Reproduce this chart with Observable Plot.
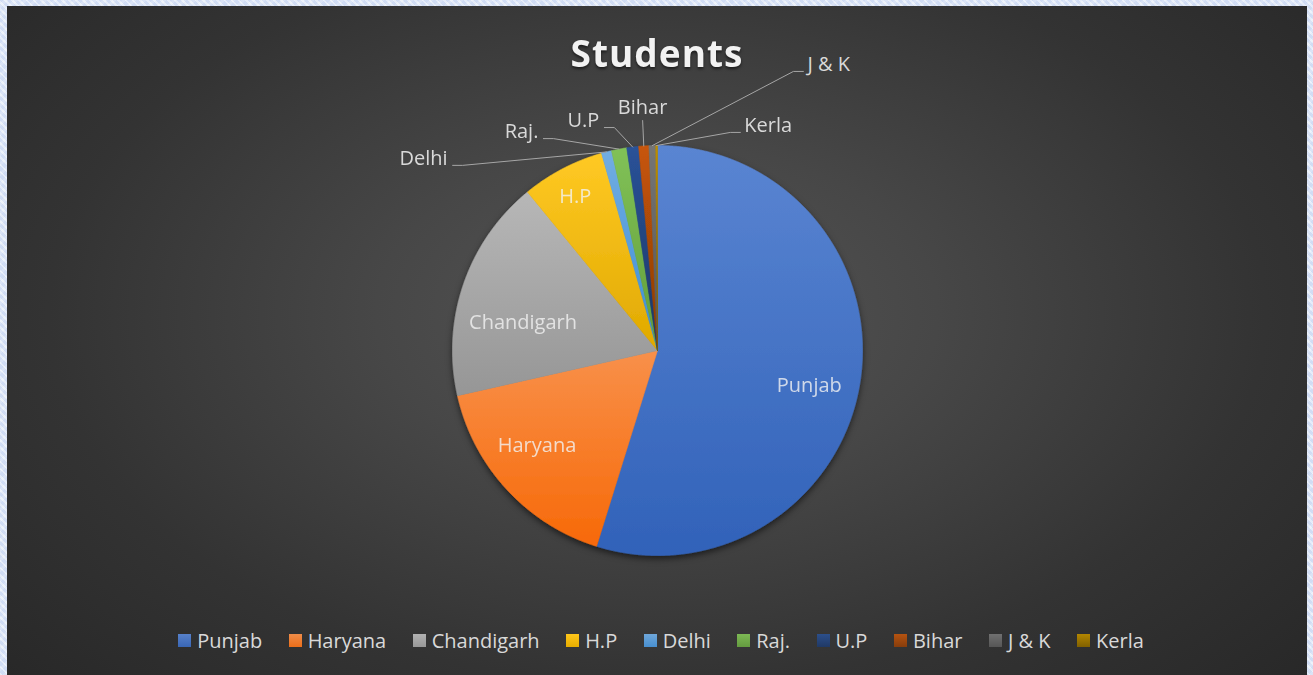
<!DOCTYPE html>
<html>
<head>
<meta charset="utf-8">
<script src="https://cdn.jsdelivr.net/npm/d3@7"></script>
<script src="https://cdn.jsdelivr.net/npm/@observablehq/plot@0.6"></script>
<style>
  html, body { margin: 0; padding: 0; }
  body {
    width: 1313px; height: 675px; overflow: hidden; position: relative;
    background: #dbe5f6;
    background-image:
      repeating-linear-gradient(45deg, rgba(255,255,255,0.35) 0 2px, rgba(190,205,240,0.25) 2px 5px),
      repeating-linear-gradient(-45deg, rgba(255,255,255,0.25) 0 3px, rgba(200,215,245,0.2) 3px 7px);
    font-family: "Open Sans", sans-serif;
  }
  #panel {
    position: absolute; left: 7px; top: 6px; width: 1300px; height: 669px;
    background: radial-gradient(ellipse 72% 85% at 50% 46%, #555555 0%, #474747 30%, #333333 65%, #262626 100%);
  }
  #chart svg { display: block; }
  #title {
    position: absolute; left: 0; top: 28px; width: 100%; text-align: center;
    font-size: 37px; line-height: 37px; font-weight: 700; color: #f2f2f2;
    letter-spacing: 1px; text-shadow: 0 2px 3px rgba(0,0,0,0.55);
  }
  #legend {
    display: flex; justify-content: center; align-items: center; gap: 26.5px;
    margin-top: 20px; height: 28px; padding-left: 8px;
    font-size: 20px; color: #d9d9d9;
  }
  .item { display: flex; align-items: center; gap: 6px; }
  .sw { width: 13px; height: 13px; }
</style>
</head>
<body>
<div id="panel">
  <div id="chart"></div>
  <div id="legend"></div>
  <div id="title"></div>
</div>
<script>
// ---- data ----
const chartTitle = "Students";
const categories = ["Punjab", "Haryana", "Chandigarh", "H.P", "Delhi", "Raj.", "U.P", "Bihar", "J & K", "Kerla"];
const students   = [411, 125, 132, 49, 6, 9, 7, 6, 4, 1];
const colors     = ["#4472C4", "#ED7D31", "#A5A5A5", "#FFC000", "#5B9BD5", "#70AD47", "#264478", "#9E480E", "#636363", "#997300"];

// ---- label layout (polar: degrees clockwise from top, multiples of radius) ----
const insideLabels = [
  {name: "Punjab",     angle: 103.0, radius: 0.76},
  {name: "Haryana",    angle: 231.6, radius: 0.75},
  {name: "Chandigarh", angle: 281.7, radius: 0.67},
  {name: "H.P",        angle: 331.8, radius: 0.85}
];
// outside labels: end of leader line
const outsideLabels = [
  {name: "Delhi", angle: 312.1, radius: 1.347, side: "left"},
  {name: "Raj.",  angle: 331.7, radius: 1.174, side: "left"},
  {name: "U.P",   angle: 346.6, radius: 1.118, side: "left"},
  {name: "Bihar", angle: 356.3, radius: 1.124, side: "top"},
  {name: "J & K", angle: 27.6,  radius: 1.536, side: "right"},
  {name: "Kerla", angle: 20.8,  radius: 1.138, side: "right"}
];

const W = 1300, H = 600, R = 205, CX = 650, CY = 344;
const px = (p) => p / R; // pixels -> data units
const rad = (deg) => deg * Math.PI / 180;

const data = categories.map((c, i) => ({name: c, value: students[i], color: colors[i], i}));
const arcs = d3.pie().sort(null).value(d => d.value).startAngle(0).endAngle(2 * Math.PI)(data);
const byName = new Map(arcs.map(a => [a.data.name, a]));

function slicePoints(a) {
  const pts = [{x: 0, y: 0}];
  const n = Math.max(2, Math.ceil((a.endAngle - a.startAngle) / (Math.PI / 720)));
  for (let k = 0; k <= n; k++) {
    const t = a.startAngle + (a.endAngle - a.startAngle) * k / n;
    pts.push({x: Math.sin(t), y: Math.cos(t)});
  }
  pts.push({x: 0, y: 0});
  return pts;
}

const sliceMarks = arcs.map(a => Plot.line(slicePoints(a), {
  x: "x", y: "y", curve: "linear",
  fill: `url(#grad${a.data.i})`, stroke: `url(#grad${a.data.i})`, strokeWidth: 0.6
}));

const inside = insideLabels.map(o => ({name: o.name, x: o.radius * Math.sin(rad(o.angle)), y: o.radius * Math.cos(rad(o.angle))}));

const leaders = [];
const outsideText = [];
outsideLabels.forEach(o => {
  const a = byName.get(o.name);
  const m = (a.startAngle + a.endAngle) / 2;
  const ex = o.radius * Math.sin(rad(o.angle)), ey = o.radius * Math.cos(rad(o.angle));
  leaders.push({name: o.name, x: Math.sin(m), y: Math.cos(m)});
  if (o.side === "left") leaders.push({name: o.name, x: ex + px(10), y: ey});
  if (o.side === "right") leaders.push({name: o.name, x: ex - px(10), y: ey});
  leaders.push({name: o.name, x: ex, y: ey});
  if (o.side === "left") outsideText.push({name: o.name, side: o.side, x: ex - px(5), y: ey + px(7)});
  else if (o.side === "right") outsideText.push({name: o.name, side: o.side, x: ex + px(4), y: ey + px(7)});
  else outsideText.push({name: o.name, side: o.side, x: ex, y: ey + px(13)});
});

const textStyle = {fill: "#d9d9d9", fontSize: 20, fontFamily: "Open Sans"};

const svg = Plot.plot({
  width: W, height: H, margin: 0,
  x: {domain: [-CX / R, (W - CX) / R], axis: null},
  y: {domain: [-(H - CY) / R, CY / R], axis: null},
  style: {background: "transparent", overflow: "visible"},
  marks: [
    ...sliceMarks,
    Plot.line(leaders, {x: "x", y: "y", z: "name", stroke: "#a6a6a6", strokeWidth: 1, curve: "linear"}),
    Plot.text(inside, {x: "x", y: "y", text: "name", fill: "#f2f2f2", fillOpacity: 0.8, fontSize: 20, fontFamily: "Open Sans"}),
    Plot.text(outsideText.filter(d => d.side === "left"), {x: "x", y: "y", text: "name", textAnchor: "end", ...textStyle}),
    Plot.text(outsideText.filter(d => d.side === "right"), {x: "x", y: "y", text: "name", textAnchor: "start", ...textStyle}),
    Plot.text(outsideText.filter(d => d.side === "top"), {x: "x", y: "y", text: "name", textAnchor: "middle", ...textStyle})
  ]
});

// gradients + shadow
const sel = d3.select(svg);
const defs = sel.insert("defs", ":first-child");
colors.forEach((c, i) => {
  const hTop = d3.hsl(c); hTop.l = Math.min(1, hTop.l + 0.07); hTop.s = Math.min(1, hTop.s * 1.1);
  const hBot = d3.hsl(c); hBot.l = Math.max(0, hBot.l - 0.06); hBot.s = Math.min(1, hBot.s * 1.12);
  const g = defs.append("linearGradient").attr("id", `grad${i}`).attr("x1", 0).attr("y1", 0).attr("x2", 0).attr("y2", 1);
  g.append("stop").attr("offset", "0%").attr("stop-color", hTop.formatHex());
  g.append("stop").attr("offset", "100%").attr("stop-color", hBot.formatHex());
});
const f = defs.append("filter").attr("id", "pieShadow").attr("x", "-20%").attr("y", "-20%").attr("width", "140%").attr("height", "140%");
f.append("feDropShadow").attr("dx", 0).attr("dy", 3).attr("stdDeviation", 3).attr("flood-color", "#000").attr("flood-opacity", 0.55);
const lineGroups = Array.from(svg.querySelectorAll('g[aria-label="line"]'));
const slices = lineGroups.slice(0, arcs.length);
if (slices.length) {
  const wrap = document.createElementNS("http://www.w3.org/2000/svg", "g");
  wrap.setAttribute("filter", "url(#pieShadow)");
  slices[0].parentNode.insertBefore(wrap, slices[0]);
  slices.forEach(s => wrap.appendChild(s));
}

document.getElementById("chart").appendChild(svg);
document.getElementById("title").textContent = chartTitle;

const legend = d3.select("#legend");
categories.forEach((c, i) => {
  const it = legend.append("div").attr("class", "item");
  const hTop = d3.hsl(colors[i]); hTop.l = Math.min(1, hTop.l + 0.05);
  const hBot = d3.hsl(colors[i]); hBot.l = Math.max(0, hBot.l - 0.05);
  it.append("div").attr("class", "sw").style("background", `linear-gradient(${hTop.formatHex()}, ${hBot.formatHex()})`);
  it.append("span").text(c);
});
</script>
</body>
</html>
